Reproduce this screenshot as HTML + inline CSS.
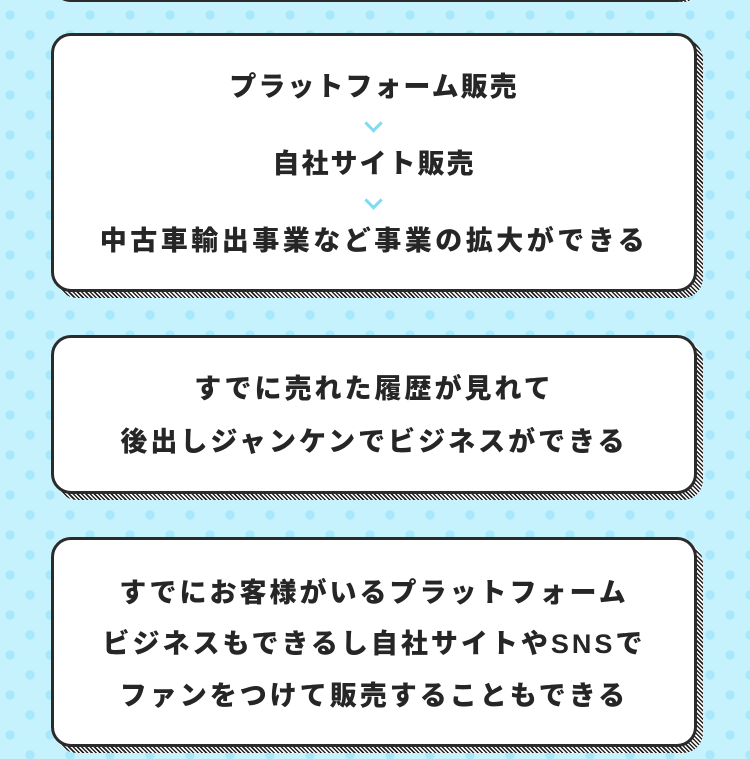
<!DOCTYPE html>
<html><head><meta charset="utf-8"><style>
html,body{margin:0;padding:0;}
body{width:750px;height:759px;overflow:hidden;position:relative;background-color:#c6f2fe;
background-image:radial-gradient(circle at 10px 15px,#a9e8fb 4.5px,transparent 5px),radial-gradient(circle at 30px 35px,#a9e8fb 4.5px,transparent 5px);
background-size:40px 40px;font-family:"Liberation Sans","Noto Sans CJK JP",sans-serif;}
.sh{position:absolute;border-radius:20px;background:repeating-linear-gradient(45deg,#222 0 1.5px,#fff 1.5px 3px);}
.box{position:absolute;left:51px;width:640px;background:#fff;border:3px solid #2b2b2b;border-radius:20px;box-sizing:content-box;}
.t{position:absolute;left:0;right:0;text-align:center;font-weight:900;font-size:27px;color:#262626;letter-spacing:3px;line-height:30px;white-space:nowrap;}
.chev{position:absolute;left:50%;margin-left:-7px;width:10px;height:10px;border-right:3px solid #7fdcef;border-bottom:3px solid #7fdcef;transform:rotate(45deg);}
</style></head><body>
<div class="sh" style="left:57px;top:-60px;width:646px;height:62px;"></div>
<div class="box" style="top:-60px;height:56px;"></div>

<div class="sh" style="left:57px;top:39px;width:646px;height:259px;"></div>
<div class="box" style="top:33px;height:253px;">
<div class="t" style="top:36px;letter-spacing:2px">プラットフォーム販売</div>
<div class="chev" style="top:81px"></div>
<div class="t" style="top:113px;letter-spacing:2px">自社サイト販売</div>
<div class="chev" style="top:158px"></div>
<div class="t" style="top:190px;letter-spacing:3.5px">中古車輸出事業など事業の拡大ができる</div>
</div>

<div class="sh" style="left:57px;top:341px;width:646px;height:159px;"></div>
<div class="box" style="top:335px;height:153px;">
<div class="t" style="top:36px">すでに売れた履歴が見れて</div>
<div class="t" style="top:89px">後出しジャンケンでビジネスができる</div>
</div>

<div class="sh" style="left:57px;top:543px;width:646px;height:210px;"></div>
<div class="box" style="top:537px;height:204px;">
<div class="t" style="top:38px">すでにお客様がいるプラットフォーム</div>
<div class="t" style="top:89px">ビジネスもできるし自社サイトやSNSで</div>
<div class="t" style="top:141px">ファンをつけて販売することもできる</div>
</div>
</body></html>
